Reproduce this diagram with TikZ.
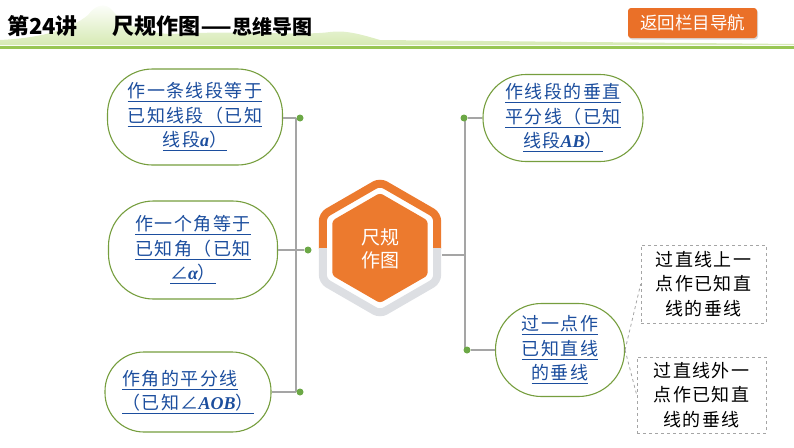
\documentclass[tikz,border=0pt]{standalone}
\usepackage{fontspec}
\usepackage{graphicx}
\setmainfont{Noto Sans CJK SC}
\newfontfamily\cjkls[LetterSpace=8]{Noto Sans CJK SC}
\newfontfamily\latinbi{Liberation Serif}
\usetikzlibrary{shadows,calc}
\definecolor{linkblue}{RGB}{28,78,158}
\definecolor{bordergreen}{RGB}{118,158,62}
\definecolor{dotgreen}{RGB}{108,168,70}
\definecolor{linegray}{RGB}{165,165,165}
\definecolor{hexorange}{RGB}{236,122,46}
\definecolor{ringgray}{RGB}{221,223,227}
\definecolor{bargreen}{RGB}{152,198,84}
\definecolor{hillgreen}{RGB}{214,234,180}
\definecolor{btnorange}{RGB}{234,112,40}
\newcommand\ulx[1]{\setbox0=\hbox{#1}\rlap{\rule[-4.5pt]{\wd0}{1.1pt}}\box0}
\newcommand\vm[1]{{\latinbi\bfseries\itshape #1}}
\tikzset{
  mapnode/.style={draw=bordergreen, line width=1.1pt, rounded corners=45pt, fill=white, inner sep=0pt, align=center, text=linkblue, font=\cjkls\fontsize{18}{24.5}\selectfont},
  subbox/.style={draw=linegray, dashed, line width=0.6pt, inner sep=0pt, align=center, text=black, font=\cjkls\fontsize{18}{24.5}\selectfont},
  conn/.style={draw=linegray, line width=1.3pt},
  dashconn/.style={draw=linegray, dashed, line width=0.8pt},
  dotnode/.style={circle, fill=dotgreen, inner sep=0pt, minimum size=7pt},
}
\begin{document}
\begin{tikzpicture}[x=1pt,y=-1pt]
\useasboundingbox (0,0) rectangle (794,447);
% header
\shade[top color=white, bottom color=hillgreen] (0,45) -- (0,40) .. controls (40,38) and (70,30) .. (88,15) .. controls (95,5) and (105,2) .. (112,10) .. controls (125,25) and (140,32) .. (170,34) .. controls (250,30) and (300,36) .. (330,32) .. controls (345,30) and (360,34) .. (380,40) -- (794,44) -- (794,45) -- cycle;
\fill[bargreen] (0,45.5) rectangle (794,49);
\node[anchor=base west, inner sep=0pt, font=\fontsize{22}{24}\selectfont\bfseries] (t1) at (7,34.5) {第24讲};
\node[anchor=base west, inner sep=0pt, font=\fontsize{22}{24}\selectfont\bfseries] (t2) at (112,34.5) {尺规作图\scalebox{1.6}[1]{—}{\fontsize{20}{24}\selectfont 思维导图}};
\node[fill=btnorange, rounded corners=3pt, minimum width=129pt, minimum height=30pt, inner sep=0pt, text=white, font=\fontsize{17.5}{20}\selectfont, drop shadow={opacity=0.3, shadow xshift=1pt, shadow yshift=-1.5pt}] (btn) at (692.5,23) {返回栏目导航};
% hexagon
\coordinate (hc) at (380,248);
\begin{scope}
  \clip (300,165) rectangle (460,248);
  \draw[hexorange, line width=8pt, rounded corners=6pt] ($(hc)+(90:66)$) -- ($(hc)+(150:66)$) -- ($(hc)+(210:66)$) -- ($(hc)+(270:66)$) -- ($(hc)+(330:66)$) -- ($(hc)+(30:66)$) -- cycle;
\end{scope}
\begin{scope}
  \clip (300,248) rectangle (460,330);
  \draw[ringgray, line width=8pt, rounded corners=6pt] ($(hc)+(90:66)$) -- ($(hc)+(150:66)$) -- ($(hc)+(210:66)$) -- ($(hc)+(270:66)$) -- ($(hc)+(330:66)$) -- ($(hc)+(30:66)$) -- cycle;
\end{scope}
\fill[hexorange, rounded corners=3pt] ($(hc)+(90:55)$) -- ($(hc)+(150:55)$) -- ($(hc)+(210:55)$) -- ($(hc)+(270:55)$) -- ($(hc)+(330:55)$) -- ($(hc)+(30:55)$) -- cycle;
\node[text=white, align=center, inner sep=0pt, font=\fontsize{19}{23}\selectfont] (hex) at (380,248.5) {尺规\\作图};
% left nodes
\node[mapnode, minimum width=175pt, minimum height=96pt] (L1) at (195,117) {\ulx{作一条线段等于}\\\ulx{已知线段（已知}\\\ulx{线段\vm{a}）}};
\node[mapnode, minimum width=169pt, minimum height=98pt] (L2) at (193,250) {\ulx{作一个角等于}\\\ulx{已知角（已知}\\\ulx{∠\vm{α}）}};
\node[mapnode, rounded corners=39pt, align=left, minimum width=166pt, minimum height=80pt] (L3) at (188,392) {\ulx{作角的平分线}\\\ulx{（已知∠\vm{AOB}）}};
% right nodes
\node[mapnode, rounded corners=43pt, minimum width=160pt, minimum height=87pt] (R1) at (563,118) {\ulx{作线段的垂直}\\\ulx{平分线（已知}\\\ulx{线段\vm{AB}）}};
\node[mapnode, rounded corners=46pt, minimum width=129pt, minimum height=93pt] (R2) at (560,350) {\ulx{过一点作}\\\ulx{已知直线}\\\ulx{的垂线}};
\node[subbox, minimum width=125pt, minimum height=78pt] (B1) at (703.5,284) {过直线上一\\点作已知直\\线的垂线};
\node[subbox, minimum width=129pt, minimum height=76pt] (B2) at (701.5,395) {过直线外一\\点作已知直\\线的垂线};
% connectors left
\coordinate (vt) at (296,118);
\coordinate (vb) at (296,392);
\draw[conn] (vt) -- (vb);
\node[dotnode] (d1) at (300,118) {};
\node[dotnode] (d2) at (308,250) {};
\node[dotnode] (d3) at (300,392) {};
\draw[conn] (L1.east |- d1) -- (d1);
\draw[conn] (L2.east |- d2) -- (d2);
\draw[conn] (L3.east |- d3) -- (d3);
% connectors right
\coordinate (hr) at (442,255);
\coordinate (vr) at (465,255);
\coordinate (vrt) at (465,118);
\coordinate (vrb) at (465,350);
\draw[conn] (hr) -- (vr);
\draw[conn] (vrt) -- (vrb);
\node[dotnode] (e1) at (464,118) {};
\node[dotnode] (e2) at (467,350) {};
\draw[conn] (e1) -- (R1.west |- e1);
\draw[conn] (e2) -- (R2.west |- e2);
\draw[dashconn] (R2.east) -- (B1.west);
\draw[dashconn] (R2.east) -- (B2.west);
\end{tikzpicture}
\end{document}
